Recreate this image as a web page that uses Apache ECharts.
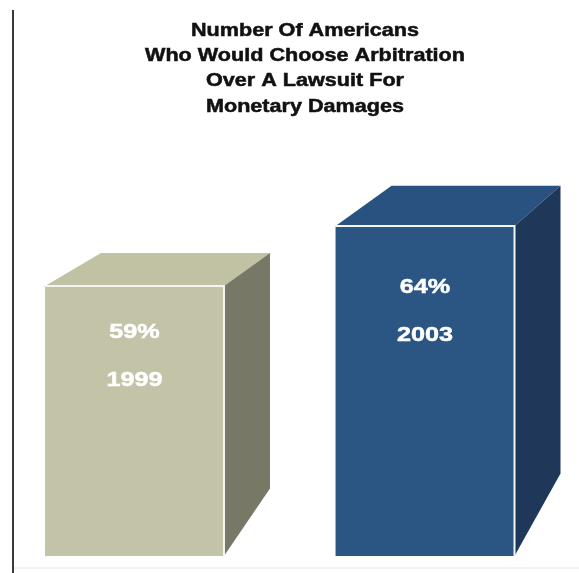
<!DOCTYPE html>
<html><head><meta charset="utf-8">
<script src="https://cdn.jsdelivr.net/npm/echarts@6/dist/echarts.min.js"></script>
<style>html,body{margin:0;padding:0;background:#fff}#c{width:579px;height:573px}</style>
</head><body><div id="c"></div>
<script>
// Data
const years = ['1999', '2003'];
const percents = [59, 64];
const titleLines = ['Number Of Americans', 'Who Would Choose Arbitration', 'Over A Lawsuit For', 'Monetary Damages'];

// Styles
const frontColors = ['#c3c4a7', '#2b5684'];
const topColors = ['#c1c2a4', '#2a5281'];
const sideColors = ['#787866', '#1f385a'];
const Y_MIN = 36.5, Y_MAX = 80.5;
const X_MIN = -0.463, X_MAX = 1.530;
const FONT = '"Liberation Sans", Arial, sans-serif';
const SX = 1.2;

const chart = echarts.init(document.getElementById('c'), null, {renderer: 'canvas'});
chart.setOption({
  backgroundColor: '#ffffff',
  animation: false,
  grid: {left: 0, right: 0, top: 28, bottom: 17},
  xAxis: {type: 'value', min: X_MIN, max: X_MAX, show: false},
  yAxis: {type: 'value', min: Y_MIN, max: Y_MAX, show: false},
  graphic: [
    {type: 'line', shape: {x1: 13, y1: 10, x2: 13, y2: 573}, style: {stroke: '#3a3a3a', lineWidth: 2}},
    {type: 'line', shape: {x1: 14, y1: 568, x2: 579, y2: 568}, style: {stroke: '#e4e4e4', lineWidth: 1}},
    {type: 'text', x: 305, y: 18, scaleX: SX,
      style: {text: titleLines.join('\n'), fill: '#111', stroke: '#111', lineWidth: 0.5, font: 'bold 18px ' + FONT, lineHeight: 25.3,
        textAlign: 'center', textVerticalAlign: 'top'}}
  ],
  series: [{
    type: 'custom',
    data: years.map((y, i) => [i, percents[i]]),
    renderItem: function (params, api) {
      const i = params.dataIndex;
      const p = api.coord([api.value(0), api.value(1)]);
      const b = api.coord([api.value(0), Y_MIN]);
      const bw = api.size([1, 0])[0] * 0.616;
      const l = p[0] - bw / 2, r = p[0] + bw / 2, top = p[1], bot = b[1];
      const h = bot - top;
      const dyT = 0.122 * h, dyB = 0.25 * h, dxL = 56, dxR = 46;
      const labY1 = top + 0.25 * h - 21.5;
      const lab = {fill: '#fff', stroke: '#fff', lineWidth: 0.5, font: 'bold 21px ' + FONT, textAlign: 'center', textVerticalAlign: 'middle'};
      return {
        type: 'group',
        children: [
          {type: 'polygon', shape: {points: [[l, top], [r, top], [r + dxR, top - dyT], [l + dxL, top - dyT]]},
            style: {fill: topColors[i]}},
          {type: 'polygon', shape: {points: [[r, top], [r + dxR, top - dyT], [r + dxR, bot - dyB], [r, bot]]},
            style: {fill: sideColors[i]}},
          {type: 'rect', shape: {x: l, y: top, width: bw, height: h}, style: {fill: frontColors[i]}},
          {type: 'polyline', shape: {points: [[l - 2, top], [r, top], [r, bot]]},
            style: {stroke: '#f4f4f0', lineWidth: 2, fill: null}},
          {type: 'text', x: p[0], y: labY1, scaleX: SX, style: Object.assign({text: percents[i] + '%'}, lab)},
          {type: 'text', x: p[0], y: labY1 + 48, scaleX: SX, style: Object.assign({text: years[i]}, lab)}
        ]
      };
    }
  }]
});
</script></body></html>
